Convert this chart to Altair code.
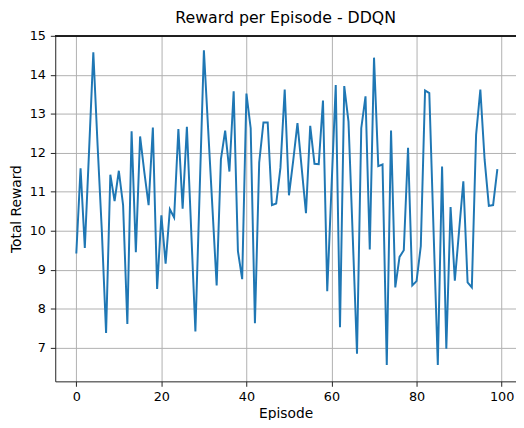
import altair as alt
import pandas as pd

episodes = list(range(100))
rewards = [
    9.42, 11.60, 9.56, 12.05, 14.58, 12.2, 10.0, 7.38, 11.44, 10.76,
    11.54, 10.66, 7.61, 12.55, 9.45, 12.42, 11.5, 10.66, 12.65, 8.51,
    10.40, 9.16, 10.55, 10.34, 12.61, 10.57, 12.67, 10.05, 7.42, 11.0,
    14.63, 12.6, 10.6, 8.6, 11.83, 12.57, 11.52, 13.58, 9.48, 8.76,
    13.52, 12.63, 7.63, 11.75, 12.78, 12.78, 10.66, 10.70, 11.62, 13.62,
    10.91, 11.8, 12.76, 11.6, 10.45, 12.69, 11.72, 11.71, 13.34, 8.45,
    11.1, 13.74, 7.53, 13.71, 12.8, 9.85, 6.85, 12.63, 13.45, 9.52,
    14.44, 11.66, 11.70, 6.56, 12.57, 8.55, 9.33, 9.50, 12.13, 8.60,
    8.71, 9.61, 13.60, 13.53, 10.0, 6.56, 11.65, 6.98, 10.61, 8.72,
    10.0, 11.27, 8.68, 8.55, 12.46, 13.62, 11.83, 10.64, 10.66, 11.58,
]
x_ticks = [0, 20, 40, 60, 80, 100]
y_ticks = [7, 8, 9, 10, 11, 12, 13, 14, 15]

df = pd.DataFrame({"Episode": episodes, "Reward": rewards})

W, H = 468, 351
FONT = "DejaVu Sans"

line = alt.Chart(df).mark_line(color="#1f77b4", strokeWidth=2).encode(
    x=alt.X("Episode:Q",
            scale=alt.Scale(domain=[-4.95, -4.95 + W / 4.32], nice=False, zero=False),
            axis=alt.Axis(values=x_ticks, title="Episode", format="d",
                          labelPadding=4, titlePadding=4)),
    y=alt.Y("Reward:Q",
            scale=alt.Scale(domain=[6.14, 15.0], nice=False, zero=False),
            axis=alt.Axis(values=y_ticks, title="Total Reward", format="d",
                          labelPadding=5, titlePadding=6)),
)

top_rule = alt.Chart(df).mark_rule(color="#222222", strokeWidth=1).encode(
    x=alt.value(0), x2=alt.value(W), y=alt.value(0)
)

chart = alt.layer(line, top_rule).properties(
    width=W, height=H,
    autosize=alt.AutoSizeParams(type="none"),
    padding={"left": 48, "top": 25, "right": 0, "bottom": 36},
    title=alt.TitleParams("Reward per Episode - DDQN", fontSize=16, font=FONT,
                          fontWeight="normal", color="black", offset=4),
).configure_view(stroke=None).configure_axis(
    domainColor="#222222", domainWidth=1, tickColor="#222222", tickSize=5,
    labelColor="black", labelFont=FONT, labelFontSize=13,
    titleFont=FONT, titleFontSize=14, titleFontWeight="normal", titleColor="black",
    gridColor="#b0b0b0", gridWidth=1, grid=True,
)

chart.save("out.html", embed_options={"renderer": "svg", "actions": False})
